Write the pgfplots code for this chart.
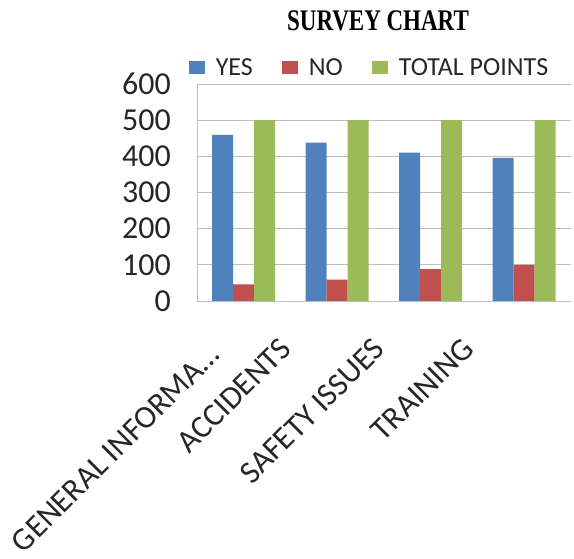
\documentclass[border=0pt]{standalone}
\usepackage{fontspec}
\setmainfont{Carlito}
\newfontfamily\titlefont{Liberation Serif}
\usepackage{pgfplots}
\pgfplotsset{compat=1.18}
\definecolor{cyes}{HTML}{4F81BD}
\definecolor{cno}{HTML}{C0504D}
\definecolor{ctot}{HTML}{9BBB59}
\definecolor{gridc}{HTML}{BEBEBE}
\begin{document}
\begin{tikzpicture}
\useasboundingbox (-197pt,-258pt) rectangle (377pt,301pt);
\begin{axis}[
  at={(0pt,0pt)}, anchor=south west,
  scale only axis, width=374pt, height=217pt,
  ybar=0pt, bar width=21pt,
  xmin=-0.5, xmax=3.5, ymin=0, ymax=600,
  xtick={1,2,2.95},
  xticklabels={ACCIDENTS, SAFETY ISSUES, TRAINING},
  extra x ticks={0.16},
  extra x tick labels={{GENERAL INFORMA…}},
  extra x tick style={xticklabel style={yshift=-9pt}},
  ytick={0,100,200,300,400,500,600},
  axis lines=left,
  axis line style={-, draw=gridc, line width=0.8pt},
  major tick length=0pt,
  ymajorgrids, grid style={gridc, line width=0.8pt},
  /pgf/number format/assume math mode=true,
  yticklabel style={font=\fontsize{32}{32}\selectfont, text=black!85, inner sep=0pt, xshift=-26pt, anchor=east},
  xticklabel style={font=\fontsize{32}{32}\selectfont, text=black!85, inner sep=0pt, xshift=-59pt, yshift=-35pt, rotate=45, anchor=north east},
  title={\scalebox{1}[1.3]{SURVEY CHART}},
  title style={font=\titlefont\bfseries\fontsize{23}{23}\selectfont, at={(0.484,1)}, anchor=center, yshift=57pt},
  legend columns=3,
  legend style={draw=none, fill=none, at={(0.4586,1)}, anchor=center, yshift=16pt,
    font=\fontsize{26}{26}\selectfont, text=black!85,
    nodes={inner sep=0pt},
    /tikz/every odd column/.append style={column sep=11pt},
    /tikz/every even column/.append style={column sep=29pt}},
  legend image code/.code={\fill[#1] (0pt,-6.5pt) rectangle (16pt,6.5pt);},
]
\addplot[draw=none, fill=cyes] coordinates {(0,459) (1,438) (2,410) (3,396)};
\addplot[draw=none, fill=cno] coordinates {(0,46) (1,59) (2,88) (3,100)};
\addplot[draw=none, fill=ctot] coordinates {(0,500) (1,500) (2,500) (3,500)};
\legend{YES, NO, TOTAL POINTS}
\end{axis}
\end{tikzpicture}
\end{document}
